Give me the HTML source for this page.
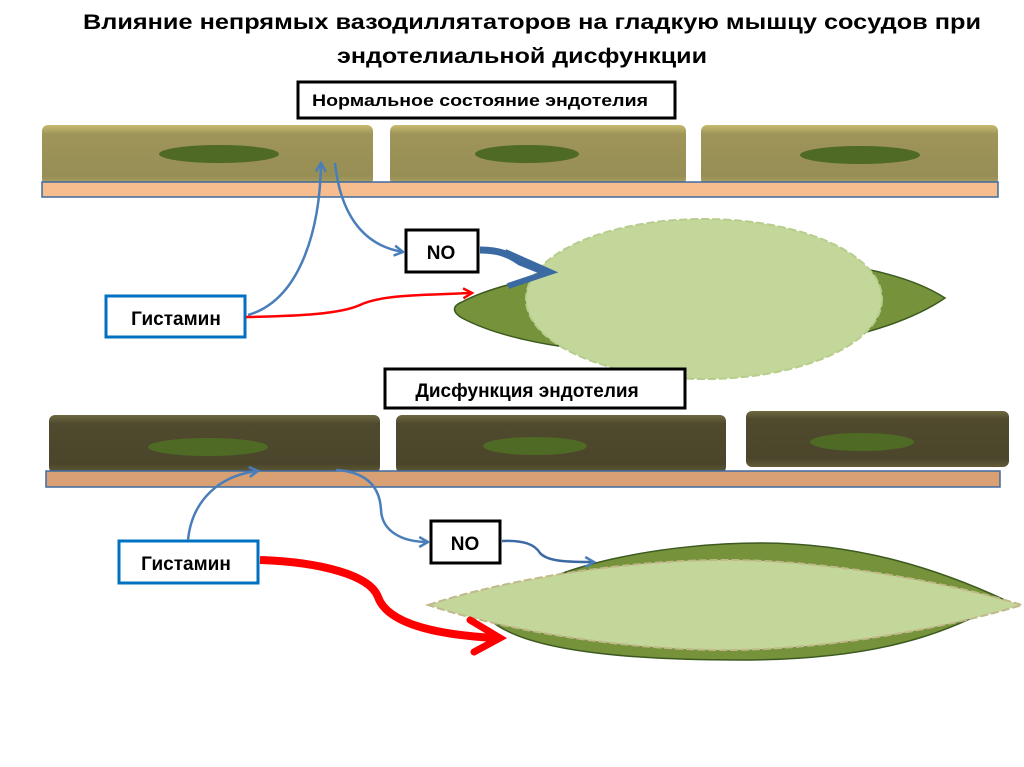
<!DOCTYPE html>
<html><head><meta charset="utf-8"><style>
html,body{margin:0;padding:0;background:#fff;}
svg{display:block;font-family:"Liberation Sans","DejaVu Sans",sans-serif;}
</style></head><body>
<svg width="1024" height="767" viewBox="0 0 1024 767" xmlns="http://www.w3.org/2000/svg">
<defs>
<linearGradient id="c1" x1="0" y1="0" x2="0" y2="1"><stop offset="0" stop-color="#c8bb6e"/><stop offset="0.15" stop-color="#9f955a"/><stop offset="0.85" stop-color="#978e55"/><stop offset="1" stop-color="#b0a566"/></linearGradient>
<linearGradient id="c2" x1="0" y1="0" x2="0" y2="1"><stop offset="0" stop-color="#6e6840"/><stop offset="0.15" stop-color="#4f4a2e"/><stop offset="0.85" stop-color="#4b462b"/><stop offset="1" stop-color="#625c39"/></linearGradient>
<marker id="ab" viewBox="0 0 10 10" refX="8" refY="5" markerWidth="5" markerHeight="5" orient="auto"><path d="M1,1 L8,5 L1,9" fill="none" stroke="#4a7ebb" stroke-width="2"/></marker>
<marker id="ar" viewBox="0 0 10 10" refX="8" refY="5" markerWidth="5" markerHeight="5" orient="auto"><path d="M1,1 L8,5 L1,9" fill="none" stroke="#f00" stroke-width="2"/></marker>
</defs>
<text x="532" y="29" font-size="21" font-weight="bold" text-anchor="middle" textLength="898" lengthAdjust="spacingAndGlyphs">Влияние непрямых вазодиллятаторов на гладкую мышцу сосудов  при</text>
<text x="522" y="63" font-size="21" font-weight="bold" text-anchor="middle" textLength="370" lengthAdjust="spacingAndGlyphs">эндотелиальной дисфункции</text>

<rect x="298" y="82" width="377" height="36" fill="#fff" stroke="#000" stroke-width="3"/>
<text x="480" y="106" font-size="17" font-weight="bold" text-anchor="middle" textLength="336" lengthAdjust="spacingAndGlyphs">Нормальное состояние эндотелия</text>

<g>
<rect x="42" y="125" width="331" height="60" rx="6" fill="url(#c1)"/>
<rect x="390" y="125" width="296" height="60" rx="6" fill="url(#c1)"/>
<rect x="701" y="125" width="297" height="60" rx="6" fill="url(#c1)"/>
<ellipse cx="219" cy="154" rx="60" ry="9" fill="#4f6a24"/>
<ellipse cx="527" cy="154" rx="52" ry="9" fill="#4f6a24"/>
<ellipse cx="860" cy="155" rx="60" ry="9" fill="#4f6a24"/>
<rect x="42" y="182" width="956" height="15" fill="#f7bd8f" stroke="#3d6aa0" stroke-width="1.5"/>
</g>

<path d="M462,302 C540,260 840,230 945,298 C840,370 560,370 462,318 C452,312 452,306 462,302Z" fill="#76933c" stroke="#3c5a1f" stroke-width="1.5"/>
<ellipse cx="704" cy="299" rx="178" ry="80" fill="#c4d79b" stroke="#b8cc8c" stroke-width="2" stroke-dasharray="8,3"/>

<rect x="406" y="230" width="72" height="42" fill="#fff" stroke="#000" stroke-width="3"/>
<text x="441" y="259" font-size="19" font-weight="bold" text-anchor="middle">NO</text>
<rect x="106" y="296" width="139" height="41" fill="#fff" stroke="#0070c0" stroke-width="3"/>
<text x="176" y="325" font-size="19" font-weight="bold" text-anchor="middle">Гистамин</text>

<path d="M248,315 C300,300 320,230 321,163" fill="none" stroke="#4a7ebb" stroke-width="2.5" marker-end="url(#ab)"/>
<path d="M335,163 C340,210 360,245 403,252" fill="none" stroke="#4a7ebb" stroke-width="2.5" marker-end="url(#ab)"/>
<path d="M480,250 C500,250 510,255 520,262 L545,272" fill="none" stroke="#3b6aa3" stroke-width="7"/>
<path d="M505,252 L550,272 L508,286" fill="none" stroke="#3b6aa3" stroke-width="6"/>
<path d="M246,317 C300,316 340,314 360,305 C380,295 420,295 472,293" fill="none" stroke="#f00" stroke-width="2.5" marker-end="url(#ar)"/>

<rect x="385" y="369" width="300" height="39" fill="#fff" stroke="#000" stroke-width="3"/>
<text x="527" y="397" font-size="19" font-weight="bold" text-anchor="middle">Дисфункция эндотелия</text>

<g>
<rect x="49" y="415" width="331" height="58" rx="6" fill="url(#c2)"/>
<rect x="396" y="415" width="330" height="58" rx="6" fill="url(#c2)"/>
<rect x="746" y="411" width="263" height="56" rx="6" fill="url(#c2)"/>
<ellipse cx="208" cy="447" rx="60" ry="9" fill="#4f6a24"/>
<ellipse cx="535" cy="446" rx="52" ry="9" fill="#4f6a24"/>
<ellipse cx="862" cy="442" rx="52" ry="9" fill="#4f6a24"/>
<rect x="46" y="471" width="954" height="16" fill="#d9a074" stroke="#3d6aa0" stroke-width="1.5"/>
</g>

<path d="M488,618 C540,560 680,543 760,543 C860,543 940,570 1005,600 C940,640 860,660 740,660 C620,660 520,650 488,618Z" fill="#76933c" stroke="#3c5a1f" stroke-width="1.5"/>
<path d="M428,605 C520,575 640,560 725,560 C820,560 940,580 1022,605 C940,630 820,650 725,650 C640,650 520,635 428,605Z" fill="#c4d79b" stroke="#c1b98a" stroke-width="2" stroke-dasharray="8,3"/>

<rect x="431" y="521" width="69" height="42" fill="#fff" stroke="#000" stroke-width="3"/>
<text x="465" y="550" font-size="19" font-weight="bold" text-anchor="middle">NO</text>
<rect x="119" y="541" width="139" height="42" fill="#fff" stroke="#0070c0" stroke-width="3"/>
<text x="186" y="570" font-size="19" font-weight="bold" text-anchor="middle">Гистамин</text>

<path d="M188,540 C192,500 220,475 258,471" fill="none" stroke="#4a7ebb" stroke-width="2.5" marker-end="url(#ab)"/>
<path d="M336,470 C370,472 380,490 381,510 C382,530 400,542 428,542" fill="none" stroke="#4a7ebb" stroke-width="2.5" marker-end="url(#ab)"/>
<path d="M502,541 C525,540 535,545 540,553 C548,562 570,562 594,562" fill="none" stroke="#3b6aa3" stroke-width="2.5" marker-end="url(#ab)"/>
<path d="M260,560 C320,562 370,575 378,597 C388,625 440,635 495,638" fill="none" stroke="#f00" stroke-width="8"/>
<path d="M470,620 L500,638 L474,652" fill="none" stroke="#f00" stroke-width="7" stroke-linecap="round"/>
</svg>
</body></html>
